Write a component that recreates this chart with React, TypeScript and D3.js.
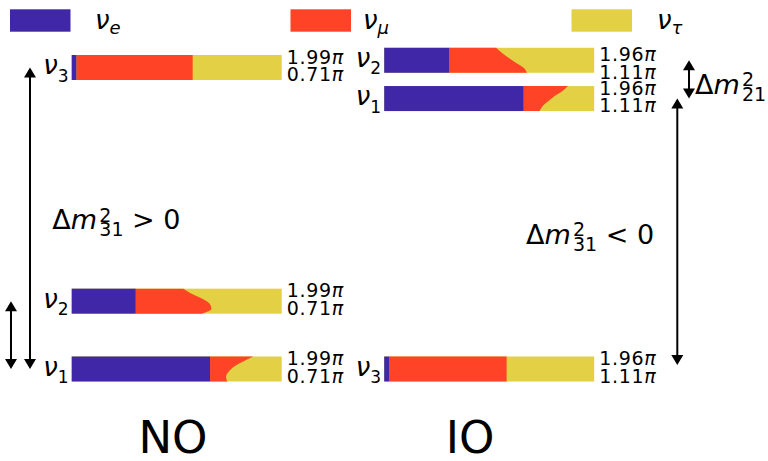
import React from 'react';
import * as d3 from 'd3';

// flavour legend
const flavorNames = ['e', 'μ', 'τ'];
const flavorColors = ['#3f27a8', '#ff4326', '#e4d045'];

// mass eigenstates (index 0 -> ν1 ...)
const massStates = ['1', '2', '3'];

// schematic mass level of each eigenstate (0 = lowest, 1 = highest)
const noLevels = [0, 0.225, 1];
const ioLevels = [0.897, 1.024, 0];

// |U_ei|^2 share (left block of each bar)
const noUe = [0.659, 0.305, 0.022];
const ioUe = [0.664, 0.31, 0.024];

// e+μ cumulative share, sampled from the top (δ high) to the bottom (δ low) of each bar
const noMuEdge = [
  [0.865, 0.816, 0.774, 0.748, 0.735, 0.74],
  [0.532, 0.571, 0.622, 0.657, 0.665, 0.62],
  [0.576, 0.576, 0.576, 0.576, 0.576, 0.576],
];
const ioMuEdge = [
  [0.875, 0.849, 0.812, 0.782, 0.755, 0.74],
  [0.533, 0.56, 0.592, 0.627, 0.664, 0.68],
  [0.583, 0.583, 0.583, 0.583, 0.583, 0.583],
];

// δ range shown on the right of each bar (top, bottom)
const noPhase = ['1.99π', '0.71π'];
const ioPhase = ['1.96π', '1.11π'];

const W = 768;
const H = 461;
const barH = 25;
const font = 'DejaVu Sans, sans-serif';

const levelY = d3.scaleLinear().domain([0, 1]).range([356.5, 55]);

function Bar({ x0, state, level, ue, edge, phase, labelShift }) {
  const x = d3.scaleLinear().domain([0, 1]).range([x0, x0 + 210]);
  const top = levelY(level);
  const t = d3.scaleLinear().domain([0, edge.length - 1]).range([top, top + barH]);
  const area = d3
    .area<number>()
    .y((d, i) => t(i))
    .x0(x(ue))
    .x1(d => x(d))
    .curve(d3.curveMonotoneY);
  return (
    <g>
      <rect x={x(0)} y={top} width={x(1) - x(0)} height={barH} fill={flavorColors[2]} />
      <path d={area(edge)} fill={flavorColors[1]} />
      <rect x={x(0)} y={top} width={x(ue) - x(0)} height={barH} fill={flavorColors[0]} />
      <text x={x0 - 3} y={top + barH / 2 + 6.5} textAnchor="end" fontFamily={font}>
        <tspan fontSize={26} fontStyle="italic">ν</tspan>
        <tspan fontSize={17} dy={7.5}>{state}</tspan>
      </text>
      <text x={x(1) + 5} y={top + 8.5 + labelShift} fontFamily={font} fontSize={19} letterSpacing={0.7}>
        {phase.map((p, i) => (
          <tspan key={i} x={x(1) + 5} dy={i ? 17.5 : 0}>
            {p.slice(0, -1)}
            <tspan fontStyle="italic">π</tspan>
          </tspan>
        ))}
      </text>
    </g>
  );
}

function Arrow({ x, y1, y2 }) {
  const head = 10;
  const hw = 6;
  const lo = Math.max(y1, y2);
  const hi = Math.min(y1, y2);
  return (
    <g fill="#000" stroke="none">
      <line x1={x} x2={x} y1={hi + head - 1} y2={lo - head + 1} stroke="#000" strokeWidth={2} />
      <path d={`M${x},${hi} L${x - hw},${hi + head} L${x + hw},${hi + head} Z`} />
      <path d={`M${x},${lo} L${x - hw},${lo - head} L${x + hw},${lo - head} Z`} />
    </g>
  );
}

function DeltaM({ x, y, sub, tail }) {
  return (
    <text x={x} y={y} fontFamily={font} fontSize={27}>
      Δ<tspan fontStyle="italic">m</tspan>
      <tspan x={x + 47} dy={-7.6} fontSize={19}>2</tspan>
      <tspan x={x + 47} dy={14.3} fontSize={19}>{sub}</tspan>
      {tail && <tspan dy={-6.7} fontSize={27}>{' ' + tail}</tspan>}
    </text>
  );
}

export default function App() {
  const legendX = [10, 290.5, 571.5];
  const legendLabelX = [95, 363, 657];
  const center = (lv: number) => levelY(lv) + barH / 2;
  return (
    <svg width={W} height={H} style={{ position: 'absolute', left: 0, top: 0, background: '#fff' }}>
      {flavorNames.map((f, i) => (
        <g key={f}>
          <rect x={legendX[i]} y={9.3} width={60.5} height={22.4} fill={flavorColors[i]} />
          <text x={legendLabelX[i]} y={29} fontFamily={font}>
            <tspan fontSize={26} fontStyle="italic">ν</tspan>
            <tspan fontSize={18} dy={5} fontStyle="italic">{f}</tspan>
          </text>
        </g>
      ))}

      {massStates.map((s, i) => (
        <Bar key={'no' + s} x0={71.7} state={s} level={noLevels[i]} ue={noUe[i]} edge={noMuEdge[i]} phase={noPhase} labelShift={0} />
      ))}
      {massStates.map((s, i) => (
        <Bar key={'io' + s} x0={384.2} state={s} level={ioLevels[i]} ue={ioUe[i]} edge={ioMuEdge[i]} phase={ioPhase} labelShift={i === 1 ? 5 : 0} />
      ))}

      <Arrow x={30} y1={center(noLevels[0])} y2={center(noLevels[2])} />
      <Arrow x={11} y1={center(noLevels[0])} y2={center(noLevels[1])} />
      <Arrow x={689} y1={center(ioLevels[0])} y2={center(ioLevels[1])} />
      <Arrow x={677.3} y1={center(ioLevels[2]) - 4} y2={center(ioLevels[0])} />

      <DeltaM x={52.3} y={229.3} sub="31" tail="> 0" />
      <DeltaM x={526} y={244} sub="31" tail="< 0" />
      <DeltaM x={695} y={94} sub="21" tail={null} />

      <text x={173} y={453} textAnchor="middle" fontFamily={font} fontSize={45}>NO</text>
      <text x={470} y={453} textAnchor="middle" fontFamily={font} fontSize={45}>IO</text>
    </svg>
  );
}
